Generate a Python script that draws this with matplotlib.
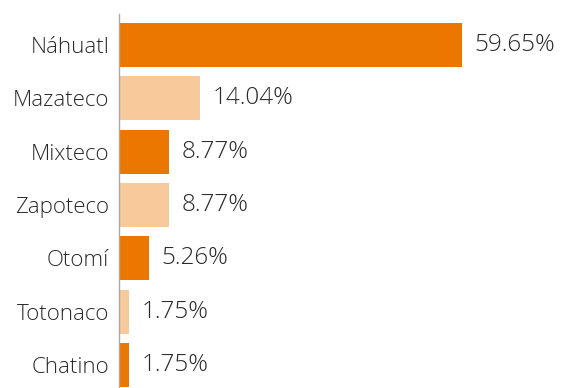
import matplotlib
matplotlib.use("Agg")
import matplotlib.pyplot as plt

languages = ["Náhuatl", "Mazateco", "Mixteco", "Zapoteco", "Otomí", "Totonaco", "Chatino"]
shares = [59.65, 14.04, 8.77, 8.77, 5.26, 1.75, 1.75]
labels = ["59.65%", "14.04%", "8.77%", "8.77%", "5.26%", "1.75%", "1.75%"]

dark = "#EC7700"
light = "#F8C99B"
colors = [dark if i % 2 == 0 else light for i in range(len(languages))]

plt.rcParams["font.family"] = ["Open Sans", "DejaVu Sans"]

fig = plt.figure(figsize=(5.63, 3.88), dpi=100)
ax = fig.add_axes([119 / 563, 0, 1 - 119 / 563, 1 - 14 / 388])

ypos = list(range(len(languages)))
ax.barh(ypos, shares, height=0.83, color=colors)

for y, v, t in zip(ypos, shares, labels):
    ax.annotate(t, (v, y), xytext=(9, 0), textcoords="offset points",
                va="center", ha="left", fontsize=17.5, color="#2A2A2A",
                fontweight="light")

ax.set_xlim(0, 77.2)
ax.set_ylim(6.43, -0.58)
ax.set_yticks(ypos)
ax.set_yticklabels(languages, fontsize=16, color="#2A2A2A", fontweight="light")
ax.tick_params(axis="y", length=0, pad=7)
ax.set_xticks([])
for s in ["top", "right", "bottom"]:
    ax.spines[s].set_visible(False)
ax.spines["left"].set_color("#AAAAAA")
ax.spines["left"].set_linewidth(1)

fig.savefig("out.png", dpi=100)
